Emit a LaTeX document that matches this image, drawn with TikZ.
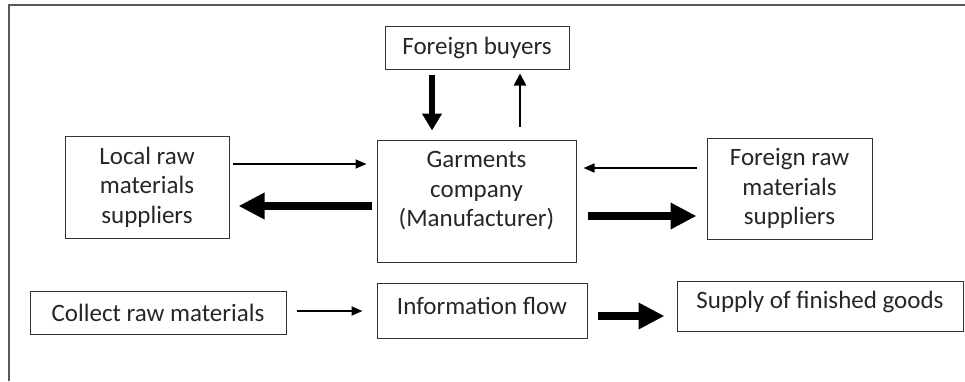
\documentclass[tikz,border=0pt]{standalone}
\usepackage{fontspec}
\setmainfont{Carlito}
\usetikzlibrary{arrows.meta,positioning}

\begin{document}
\begin{tikzpicture}[x=1pt, y=-1pt,
        box/.style={rectangle, draw=black!80, line width=1pt, text=black!85, align=center, inner sep=0pt, font=\fontsize{25}{29.5}\selectfont},
        thinflow/.style={-{Triangle[width=9pt,length=11pt]}, line width=1.6pt, black},
        upflow/.style={-{Triangle[width=12pt,length=12pt]}, line width=2.6pt, black},
        downflow/.style={-{Triangle[width=19pt,length=17pt]}, line width=6pt, black},
        thickflow/.style={-{Triangle[width=25pt,length=26pt]}, line width=8.5pt, black},
        frame/.style={line width=2pt, black!65},
    ]
        \useasboundingbox (0,0) rectangle (965,381);
        % frame of the figure
        \draw[frame] (9,381) -- (9,5) -- (965,5);

        % top row
        \node[box, minimum width=184pt, minimum height=43pt] (buyers) at (477,47.5) {Foreign buyers};

        % middle row
        \node[box, minimum width=164pt, minimum height=102pt] (localsup) at (147,187) {Local raw\\materials\\suppliers};
        \node[box, minimum width=199pt, minimum height=122pt, text depth=24pt] (company) at (476.5,201) {Garments\\company\\(Manufacturer)};
        \node[box, minimum width=165pt, minimum height=101pt] (foreignsup) at (789.5,188.5) {Foreign raw\\materials\\suppliers};

        % bottom row
        \node[box, minimum width=256pt, minimum height=43pt] (collect) at (158,312.5) {Collect raw materials};
        \node[box, minimum width=210pt, minimum height=55pt, text depth=10pt] (info) at (482,310.5) {Information flow};
        \node[box, minimum width=286pt, minimum height=50pt, text depth=13pt] (supply) at (820,306) {Supply of finished goods};

        % flows
        \draw[downflow] ([xshift=-45pt,yshift=-5pt]buyers.south) -- ([xshift=-44.5pt,yshift=9pt]company.north);
        \draw[upflow] ([xshift=43.5pt,yshift=13pt]company.north) -- ([xshift=43pt,yshift=-4pt]buyers.south);
        \draw[thinflow] ([xshift=3pt,yshift=23pt]localsup.east) -- ([xshift=-10pt,yshift=37pt]company.west);
        \draw[thickflow] ([xshift=-5pt,yshift=-5pt]company.west) -- ([xshift=9pt,yshift=-19pt]localsup.east);
        \draw[thinflow] ([xshift=-10pt,yshift=20.5pt]foreignsup.west) -- ([xshift=7pt,yshift=33pt]company.east);
        \draw[thickflow] ([xshift=11pt,yshift=-15pt]company.east) -- ([xshift=-10pt,yshift=-27.5pt]foreignsup.west);
        \draw[thinflow] ([xshift=10pt,yshift=1.5pt]collect.east) -- ([xshift=-14pt,yshift=-0.5pt]info.west);
        \draw[thickflow] ([xshift=10pt,yshift=-5.5pt]info.east) -- ([xshift=-12pt,yshift=-10pt]supply.west);
\end{tikzpicture}
\end{document}
